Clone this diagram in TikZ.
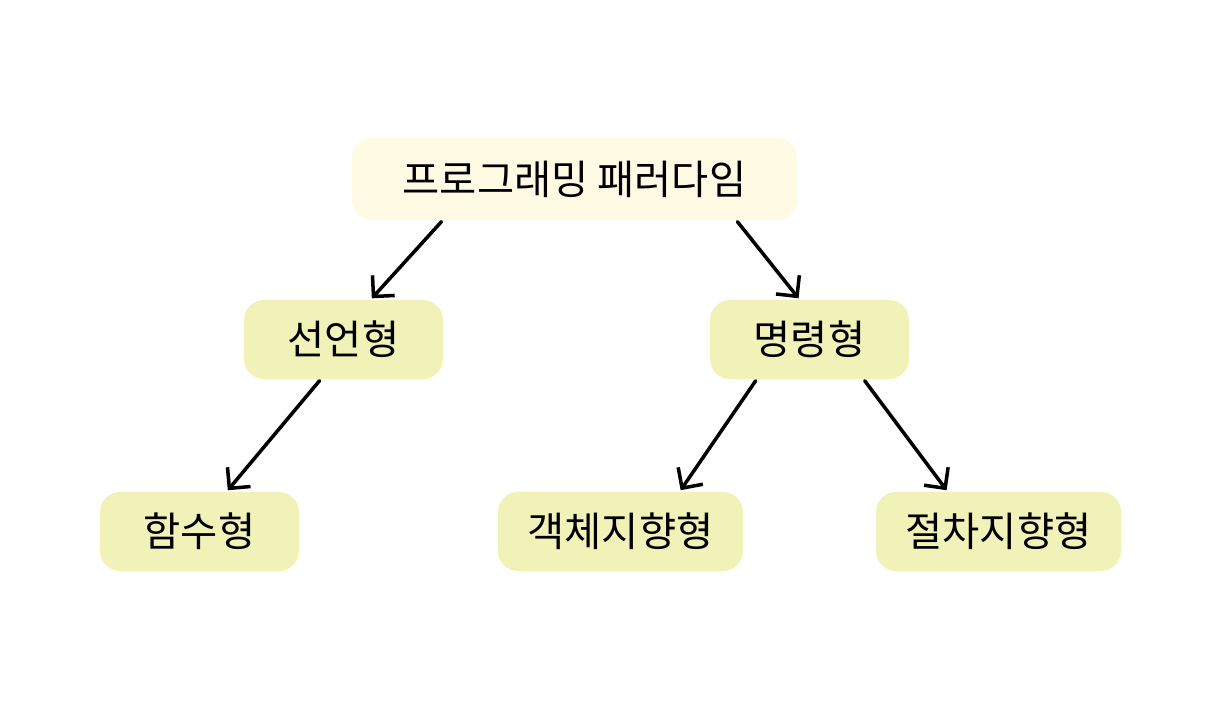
\documentclass[tikz,border=0pt]{standalone}
\usepackage{fontspec}
\setmainfont{Noto Sans CJK KR}
\usetikzlibrary{arrows.meta}
\definecolor{rootfill}{HTML}{FFFAE3}
\definecolor{kindfill}{HTML}{F0F2B8}
\tikzset{
  rootbox/.style={rounded corners=0.4cm,fill=rootfill,minimum width=8.9cm,minimum height=1.64cm,inner sep=0pt,font=\fontsize{23pt}{27pt}\selectfont},
  kindbox/.style={rounded corners=0.4cm,fill=kindfill,minimum width=3.98cm,minimum height=1.58cm,inner sep=0pt,font=\fontsize{23pt}{27pt}\selectfont},
  widebox/.style={kindbox,minimum width=4.9cm},
  pointer/.style={line width=2pt,line cap=round,line join=round,-{Straight Barb[length=0.3cm,width=0.6cm,line width=2pt]},shorten <=1pt,shorten >=1pt}
}
\begin{document}
\begin{tikzpicture}
\useasboundingbox (0cm,0cm) rectangle (24.12cm,14.44cm);
\node (paradigm) at (11.49cm,10.86cm) [rootbox] {프로그래밍 패러다임};
\node (declarative) at (6.87cm,7.65cm) [kindbox] {선언형};
\node (imperative) at (16.19cm,7.65cm) [kindbox] {명령형};
\node (functional) at (3.99cm,3.81cm) [kindbox] {함수형};
\node (objectoriented) at (12.41cm,3.81cm) [widebox] {객체지향형};
\node (procedural) at (19.97cm,3.81cm) [widebox] {절차지향형};
\draw[pointer] ([xshift=1.82cm]paradigm.south west) -- ([xshift=2.54cm]declarative.north west);
\draw[pointer] ([xshift=-1.22cm]paradigm.south east) -- ([xshift=1.8cm]imperative.north west);
\draw[pointer] ([xshift=1.54cm]declarative.south west) -- ([xshift=2.54cm]functional.north west);
\draw[pointer] ([xshift=0.94cm]imperative.south west) -- ([xshift=3.64cm]objectoriented.north west);
\draw[pointer] ([xshift=3.08cm]imperative.south west) -- ([xshift=1.44cm]procedural.north west);
\end{tikzpicture}
\end{document}
